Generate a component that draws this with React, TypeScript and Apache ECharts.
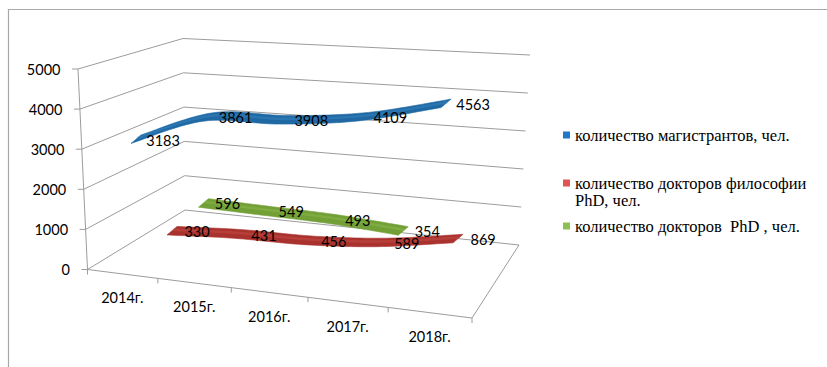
import React, { useEffect, useRef } from "react";
import * as echarts from "echarts";

// ---------- data ----------
const categories = ["2014г.", "2015г.", "2016г.", "2017г.", "2018г."];
const yTicks = [0, 1000, 2000, 3000, 4000, 5000];
const masters = [3183, 3861, 3908, 4109, 4563];
const phdPhilosophy = [330, 431, 456, 589, 869];
const phdDoctors = [596, 549, 493, 354];
const seriesNames = [
  "количество магистрантов, чел.",
  "количество докторов философии PhD, чел.",
  "количество докторов  PhD , чел.",
];

// ---------- layout (3D look) ----------
const GRID = { left: 100, top: 69.5, width: 400, height: 200 };
const persp = (t: number) => (0.896 * t) / (1 - 0.104 * t);
const FL0 = [87.5, 269.5];
const FL5 = [78, 69];
const BL0 = [185, 210];
const BL5 = [183, 38.5];
const BR0 = [519, 245];
const BR5 = [530, 55];
const FR0 = [472, 318];
const GRID_COLOR = "#9c9c9c";
const SANS = "Lato";
const SERIF = "Liberation Serif";

type Layer = { a: number; b: number; c: number; slope: number; dx: number; fill: string; light: string; key: string };
const layers: Layer[] = [
  { a: 100.9, b: 388, c: 266.5, slope: 4.84, dx: 27, fill: "#1f68a3", light: "#3a86c4", key: "#1f78c8" },
  { a: 139.6, b: 358, c: 243.9, slope: 7.36, dx: 25, fill: "#aa322e", light: "#c8504a", key: "#e05454" },
  { a: 172.6, b: 341, c: 226.8, slope: 6.09, dx: 24, fill: "#72a037", light: "#8dbb4e", key: "#8cc050" },
];
const seriesValues = [masters, phdPhilosophy, phdDoctors];
const DEPTH = [10, -8.5];

const lerp = (p: number[], q: number[], f: number) => [p[0] + (q[0] - p[0]) * f, p[1] + (q[1] - p[1]) * f];

function project(pt: number[], L: Layer) {
  const t = (pt[0] - GRID.left) / GRID.width;
  const idx = t * 5 - 0.5;
  return [L.a + L.b * persp(t), pt[1] - (GRID.top + GRID.height) + L.c + L.slope * idx];
}

function smooth(pts: number[][], n = 14) {
  const out: number[][] = [];
  for (let j = 0; j < pts.length - 1; j++) {
    const p0 = pts[j - 1] || pts[j];
    const p1 = pts[j];
    const p2 = pts[j + 1];
    const p3 = pts[j + 2] || pts[j + 1];
    for (let k = 0; k < n; k++) {
      const u = k / n, u2 = u * u, u3 = u2 * u;
      out.push(
        [0, 1].map(
          (d) =>
            0.5 *
            (2 * p1[d] +
              (-p0[d] + p2[d]) * u +
              (2 * p0[d] - 5 * p1[d] + 4 * p2[d] - p3[d]) * u2 +
              (-p0[d] + 3 * p1[d] - 3 * p2[d] + p3[d]) * u3)
        )
      );
    }
  }
  out.push(pts[pts.length - 1]);
  return out;
}

function buildFrame() {
  const els: any[] = [];
  const line = (p: number[], q: number[]) => ({
    type: "line",
    silent: true,
    shape: { x1: p[0], y1: p[1], x2: q[0], y2: q[1] },
    style: { stroke: GRID_COLOR, lineWidth: 1 },
  });
  const maxV = yTicks[yTicks.length - 1];
  // outer border
  els.push({ type: "rect", silent: true, shape: { x: 8.5, y: 9.5, width: 900, height: 500 }, style: { fill: "none", stroke: "#a8a8a8", lineWidth: 1.2 } });
  yTicks.forEach((v) => {
    const f = v / maxV;
    const fp = lerp(FL0, FL5, f);
    const bl = lerp(BL0, BL5, f);
    const br = lerp(BR0, BR5, f);
    els.push(line(fp, bl));
    els.push(line(bl, br));
    els.push(line([fp[0] - 6, fp[1]], fp));
    els.push({
      type: "text",
      silent: true,
      x: fp[0] - 17.5,
      y: fp[1],
      style: { text: String(v), fontFamily: SANS, fontSize: 14.5, fill: "#000", align: "right", verticalAlign: "middle" },
    });
  });
  els.push(line(FL0, FL5));
  els.push(line(FL0, FR0));
  els.push(line(FR0, BR0));
  for (let k = 0; k <= categories.length; k++) {
    const p = lerp(FL0, FR0, persp(k / categories.length));
    els.push(line(p, [p[0], p[1] + 5]));
  }
  categories.forEach((c, i) => {
    const p = lerp(FL0, FR0, persp((i + 0.5) / categories.length));
    els.push({
      type: "text",
      silent: true,
      x: p[0],
      y: p[1] + 24,
      style: { text: c, fontFamily: SANS, fontSize: 14.5, fill: "#000", align: "center", verticalAlign: "middle" },
    });
  });
  return els;
}

function buildOption() {
  const series: any[] = [];
  // ribbons: back to front
  [2, 1, 0].forEach((si) => {
    const L = layers[si];
    const vals = seriesValues[si];
    series.push({
      type: "custom",
      name: seriesNames[si],
      coordinateSystem: "cartesian2d",
      encode: { x: 0, y: 1 },
      clip: false,
      silent: true,
      z: 2,
      itemStyle: { color: L.key },
      data: vals.map((v, i) => [i, v]),
      renderItem: (params: any, api: any) => {
        if (params.dataIndex !== 0) return { type: "group", children: [] };
        const centers = vals.map((v, i) => project(api.coord([i, v]), L));
        const sm = smooth(centers);
        const top = sm.map((p) => [p[0] + DEPTH[0] / 2, p[1] + DEPTH[1] / 2]);
        const bot = sm.map((p) => [p[0] - DEPTH[0] / 2, p[1] - DEPTH[1] / 2]).reverse();
        return {
          type: "group",
          children: [
            { type: "polygon", shape: { points: top.concat(bot) }, style: { fill: L.fill, stroke: L.fill, lineWidth: 0.6 } },
            {
              type: "polyline",
              shape: { points: sm.map((p) => [p[0] + 1, p[1] - 1]) },
              style: { fill: null, stroke: L.light, lineWidth: 2.5, opacity: 0.45 },
            },
          ],
        };
      },
    });
  });
  // value labels on top
  [2, 1, 0].forEach((si) => {
    const L = layers[si];
    const vals = seriesValues[si];
    series.push({
      type: "custom",
      name: seriesNames[si],
      coordinateSystem: "cartesian2d",
      encode: { x: 0, y: 1 },
      clip: false,
      silent: true,
      z: 5,
      itemStyle: { color: L.key },
      data: vals.map((v, i) => [i, v]),
      renderItem: (params: any, api: any) => {
        const p = project(api.coord([api.value(0), api.value(1)]), L);
        return {
          type: "text",
          x: p[0] + L.dx,
          y: p[1] + 1,
          style: {
            text: String(api.value(1)),
            fontFamily: SANS,
            fontSize: 14.5,
            fill: "#000",
            align: "center",
            verticalAlign: "middle",
          },
        };
      },
    });
  });

  const legendBase = {
    orient: "vertical",
    left: 563,
    padding: 0,
    itemWidth: 7,
    itemHeight: 7,
    itemGap: 0,
    selectedMode: false,
    textStyle: { fontFamily: SERIF, fontSize: 16.5, color: "#000", lineHeight: 17.5 },
  };
  const legend = [
    { ...legendBase, top: 126.25, data: [{ name: seriesNames[0], icon: "rect", itemStyle: { color: layers[0].key } }] },
    {
      ...legendBase,
      top: 156.75,
      formatter: () => " \nколичество докторов философии\nPhD, чел.",
      data: [{ name: seriesNames[1], icon: "rect", itemStyle: { color: layers[1].key } }],
    },
    { ...legendBase, top: 217.25, data: [{ name: seriesNames[2], icon: "rect", itemStyle: { color: layers[2].key } }] },
  ];

  return {
    animation: false,
    backgroundColor: "#fff",
    grid: { left: GRID.left, top: GRID.top, width: GRID.width, height: GRID.height },
    xAxis: { type: "category", data: categories, show: false, boundaryGap: true },
    yAxis: { type: "value", min: 0, max: 5000, interval: 1000, show: false },
    legend,
    graphic: { elements: buildFrame() },
    series,
  };
}

export default function App() {
  const ref = useRef<HTMLDivElement>(null);
  useEffect(() => {
    const chart = echarts.init(ref.current!, null, { renderer: "svg" });
    chart.setOption(buildOption() as any);
    return () => chart.dispose();
  }, []);
  return (
    <div
      ref={ref}
      style={{ position: "fixed", left: 0, top: 0, width: 827, height: 367, background: "#fff" }}
    />
  );
}
